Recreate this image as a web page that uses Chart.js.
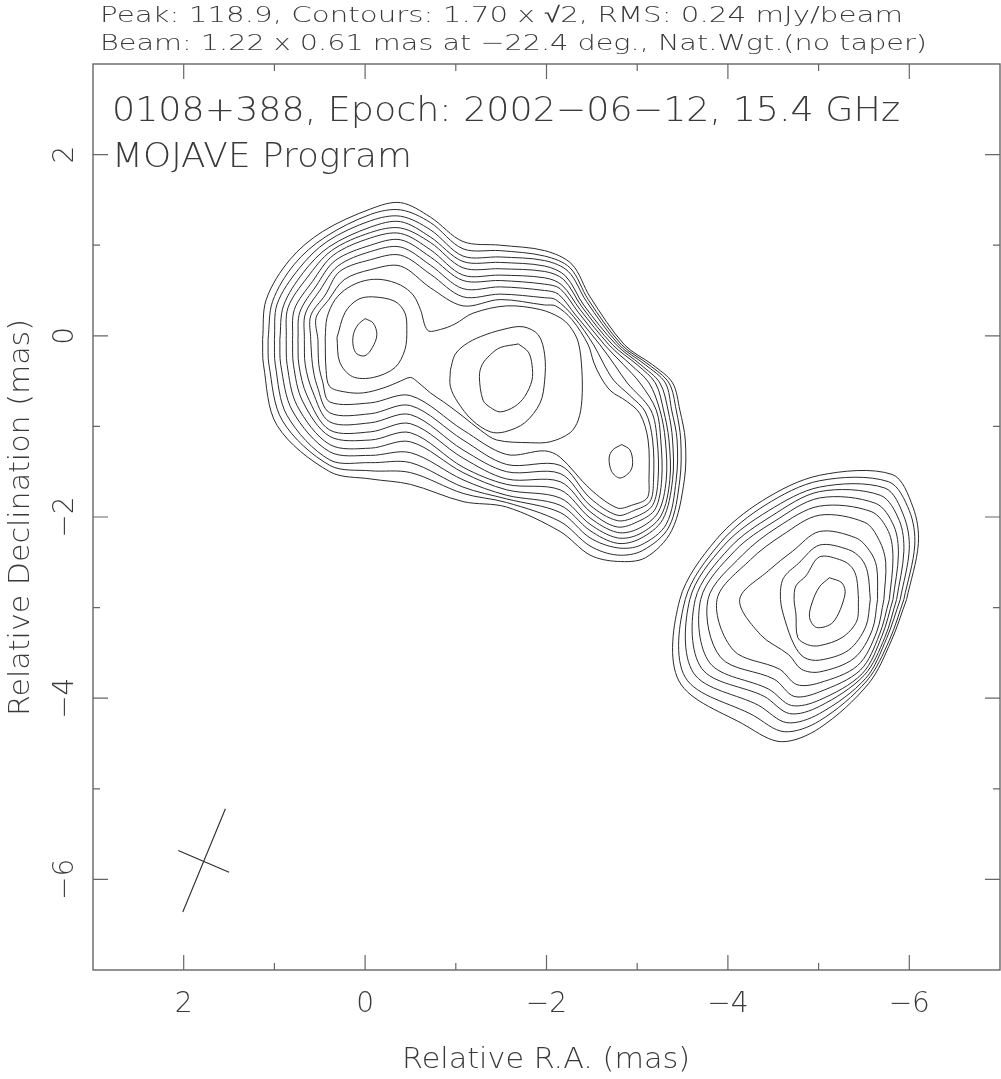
<!DOCTYPE html>
<html>
<head>
<meta charset="utf-8">
<script src="https://cdn.jsdelivr.net/npm/chart.js@4.4.0/dist/chart.umd.min.js"></script>
<style>
html,body{margin:0;padding:0;background:#fff;overflow:hidden;}
canvas{display:block;}
</style>
</head>
<body>
<canvas id="c" width="1001" height="1079"></canvas>
<script>
// ---------- Data (Relative R.A., Relative Dec in mas) ----------
const xMajorTicks = [2, 0, -2, -4, -6];
const xMinorTicks = [1, -1, -3, -5];
const yMajorTicks = [2, 0, -2, -4, -6];
const yMinorTicks = [1, -1, -3, -5];
const xTickLabels = ['2', '0', '\u22122', '\u22124', '\u22126'];
const yTickLabels = ['2', '0', '\u22122', '\u22124', '\u22126'];

const titleLine1 = 'Peak: 118.9, Contours: 1.70 x \u221A2, RMS: 0.24 mJy/beam';
const titleLine2 = 'Beam: 1.22 x 0.61 mas at \u221222.4 deg., Nat.Wgt.(no taper)';
const sourceLabel = '0108+388, Epoch: 2002\u221206\u221212, 15.4 GHz';
const programLabel = 'MOJAVE Program';
const xAxisTitle = 'Relative R.A. (mas)';
const yAxisTitle = 'Relative Declination (mas)';

// Beam cross (major and minor axes)
const beamMajor = [[1.54, -5.22], [2.01, -6.36]];
const beamMinor = [[2.06, -5.68], [1.50, -5.92]];

// Northern complex: contours enclosing core, knot B and knot C (levels 1-10)
const outer01 = [[1.13,-0.04],[1.09,0.40],[0.83,0.84],[0.47,1.15],[-0.06,1.40],[-0.39,1.47],[-0.72,1.31],[-1.08,1.04],[-1.49,1.00],[-1.98,0.94],[-2.28,0.79],[-2.48,0.43],[-2.86,-0.10],[-3.17,-0.32],[-3.39,-0.52],[-3.47,-0.82],[-3.53,-1.15],[-3.52,-1.59],[-3.38,-2.15],[-3.09,-2.45],[-2.78,-2.49],[-2.48,-2.42],[-2.15,-2.16],[-1.56,-1.89],[-1.08,-1.83],[-0.50,-1.64],[-0.06,-1.58],[0.39,-1.50],[0.97,-0.99],[1.12,-0.32]];
const outer02 = [[1.07,-0.04],[1.02,0.38],[0.78,0.79],[0.44,1.09],[-0.06,1.34],[-0.39,1.39],[-0.72,1.25],[-1.08,0.96],[-1.49,0.94],[-1.98,0.88],[-2.26,0.75],[-2.46,0.40],[-2.83,-0.10],[-3.13,-0.32],[-3.35,-0.52],[-3.43,-0.82],[-3.48,-1.15],[-3.47,-1.59],[-3.35,-2.11],[-3.06,-2.37],[-2.78,-2.42],[-2.48,-2.32],[-2.15,-2.05],[-1.56,-1.84],[-1.08,-1.74],[-0.50,-1.51],[-0.06,-1.49],[0.39,-1.43],[0.91,-0.94],[1.06,-0.32]];
const outer03 = [[1.00,-0.04],[0.97,0.35],[0.73,0.74],[0.42,1.04],[-0.06,1.27],[-0.39,1.32],[-0.72,1.17],[-1.08,0.88],[-1.49,0.87],[-1.98,0.83],[-2.24,0.71],[-2.44,0.38],[-2.80,-0.10],[-3.09,-0.32],[-3.31,-0.52],[-3.38,-0.82],[-3.44,-1.15],[-3.43,-1.59],[-3.32,-2.08],[-3.04,-2.31],[-2.78,-2.34],[-2.48,-2.23],[-2.15,-1.95],[-1.56,-1.80],[-1.08,-1.67],[-0.50,-1.40],[-0.06,-1.40],[0.39,-1.37],[0.86,-0.88],[0.99,-0.32]];
const outer04 = [[0.94,-0.04],[0.90,0.33],[0.68,0.70],[0.40,0.98],[-0.06,1.20],[-0.39,1.26],[-0.72,1.09],[-1.08,0.82],[-1.49,0.81],[-1.98,0.77],[-2.21,0.66],[-2.41,0.34],[-2.77,-0.10],[-3.04,-0.32],[-3.25,-0.52],[-3.34,-0.82],[-3.39,-1.15],[-3.39,-1.59],[-3.28,-2.03],[-3.03,-2.24],[-2.78,-2.29],[-2.48,-2.15],[-2.15,-1.87],[-1.56,-1.76],[-1.08,-1.59],[-0.50,-1.29],[-0.06,-1.32],[0.39,-1.28],[0.80,-0.83],[0.93,-0.32]];
const outer05 = [[0.87,-0.04],[0.85,0.31],[0.64,0.64],[0.37,0.94],[-0.06,1.14],[-0.39,1.19],[-0.72,1.03],[-1.08,0.75],[-1.49,0.74],[-1.98,0.71],[-2.19,0.62],[-2.39,0.32],[-2.73,-0.10],[-3.00,-0.32],[-3.20,-0.52],[-3.29,-0.82],[-3.35,-1.15],[-3.36,-1.59],[-3.26,-1.99],[-3.02,-2.19],[-2.78,-2.23],[-2.48,-2.08],[-2.15,-1.79],[-1.56,-1.70],[-1.08,-1.51],[-0.50,-1.17],[-0.06,-1.24],[0.39,-1.20],[0.75,-0.77],[0.86,-0.32]];
const outer06 = [[0.80,-0.04],[0.78,0.29],[0.58,0.60],[0.35,0.89],[-0.06,1.08],[-0.39,1.13],[-0.72,0.95],[-1.08,0.67],[-1.49,0.67],[-1.98,0.64],[-2.17,0.56],[-2.37,0.29],[-2.69,-0.10],[-2.93,-0.32],[-3.13,-0.52],[-3.25,-0.82],[-3.31,-1.15],[-3.32,-1.59],[-3.23,-1.95],[-3.01,-2.13],[-2.78,-2.17],[-2.48,-2.01],[-2.15,-1.70],[-1.56,-1.64],[-1.08,-1.45],[-0.50,-1.07],[-0.06,-1.15],[0.39,-1.11],[0.69,-0.72],[0.79,-0.32]];
const outer07 = [[0.74,-0.04],[0.72,0.26],[0.54,0.55],[0.33,0.83],[-0.06,1.00],[-0.39,1.06],[-0.72,0.87],[-1.08,0.61],[-1.49,0.61],[-1.98,0.57],[-2.15,0.52],[-2.35,0.26],[-2.64,-0.10],[-2.85,-0.32],[-3.03,-0.52],[-3.21,-0.82],[-3.26,-1.15],[-3.27,-1.59],[-3.20,-1.91],[-3.03,-2.04],[-2.78,-2.11],[-2.48,-1.94],[-2.15,-1.61],[-1.56,-1.58],[-1.08,-1.35],[-0.50,-0.97],[-0.06,-1.06],[0.39,-1.04],[0.64,-0.66],[0.73,-0.32]];
const outer08 = [[0.67,-0.04],[0.66,0.24],[0.50,0.50],[0.30,0.77],[-0.06,0.93],[-0.39,0.98],[-0.72,0.78],[-1.08,0.52],[-1.49,0.54],[-1.98,0.50],[-2.13,0.46],[-2.32,0.23],[-2.59,-0.10],[-2.75,-0.32],[-2.89,-0.52],[-3.15,-0.82],[-3.22,-1.15],[-3.23,-1.59],[-3.17,-1.87],[-3.00,-1.99],[-2.78,-2.04],[-2.48,-1.87],[-2.15,-1.52],[-1.56,-1.50],[-1.08,-1.26],[-0.50,-0.87],[-0.06,-0.96],[0.39,-0.95],[0.58,-0.61],[0.66,-0.32]];
const outer09 = [[0.60,-0.04],[0.60,0.22],[0.44,0.45],[0.28,0.71],[-0.06,0.84],[-0.39,0.89],[-0.72,0.68],[-1.08,0.43],[-1.49,0.46],[-1.98,0.42],[-2.10,0.40],[-2.30,0.21],[-2.52,-0.10],[-2.62,-0.29],[-2.74,-0.49],[-2.92,-0.66],[-3.09,-0.84],[-3.17,-1.15],[-3.18,-1.59],[-3.14,-1.83],[-2.96,-1.93],[-2.78,-1.98],[-2.48,-1.79],[-2.15,-1.43],[-1.56,-1.42],[-1.08,-1.15],[-0.50,-0.77],[-0.06,-0.86],[0.39,-0.85],[0.53,-0.55],[0.58,-0.32]];
const outer10 = [[0.52,-0.04],[0.54,0.20],[0.40,0.40],[0.23,0.62],[-0.06,0.73],[-0.39,0.77],[-0.72,0.53],[-1.08,0.33],[-1.49,0.40],[-1.98,0.34],[-2.10,0.33],[-2.28,0.18],[-2.46,-0.10],[-2.52,-0.29],[-2.60,-0.46],[-2.71,-0.61],[-2.88,-0.72],[-3.03,-0.86],[-3.12,-1.15],[-3.13,-1.59],[-3.11,-1.79],[-2.94,-1.87],[-2.78,-1.90],[-2.48,-1.69],[-2.15,-1.34],[-1.98,-1.27],[-1.56,-1.31],[-1.08,-1.04],[-0.50,-0.66],[-0.06,-0.74],[0.39,-0.73],[0.47,-0.50],[0.51,-0.32]];
// level 11: core + knot B (saddle contour) and separate knot C
const saddle11 = [[0.44,-0.02],[0.42,0.20],[0.33,0.40],[0.19,0.53],[0.00,0.61],[-0.19,0.62],[-0.39,0.56],[-0.53,0.45],[-0.61,0.29],[-0.69,0.06],[-0.83,0.07],[-0.99,0.13],[-1.19,0.25],[-1.56,0.33],[-1.93,0.29],[-2.15,0.20],[-2.26,0.10],[-2.35,-0.07],[-2.39,-0.38],[-2.39,-0.71],[-2.35,-0.93],[-2.26,-1.07],[-2.04,-1.17],[-1.82,-1.18],[-1.45,-1.15],[-1.27,-1.04],[-1.08,-0.89],[-0.88,-0.74],[-0.72,-0.63],[-0.58,-0.51],[-0.50,-0.46],[-0.39,-0.50],[-0.22,-0.57],[0.02,-0.63],[0.22,-0.62],[0.39,-0.56],[0.43,-0.38]];
const knotC11 = [[-2.83,-1.20],[-2.92,-1.26],[-2.95,-1.40],[-2.92,-1.50],[-2.81,-1.57],[-2.72,-1.50],[-2.69,-1.35],[-2.73,-1.26]];
// levels 12, 13: core and knot B
const core12 = [[0.31,-0.02],[0.22,0.26],[0.08,0.40],[-0.08,0.43],[-0.33,0.38],[-0.44,0.25],[-0.46,0.07],[-0.44,-0.15],[-0.33,-0.35],[-0.09,-0.46],[0.14,-0.45],[0.28,-0.29]];
const knotB12 = [[-0.94,-0.38],[-0.99,-0.21],[-1.10,-0.10],[-1.27,-0.01],[-1.52,0.07],[-1.74,0.10],[-1.91,0.01],[-1.98,-0.21],[-1.98,-0.49],[-1.93,-0.74],[-1.76,-0.96],[-1.54,-1.06],[-1.38,-1.06],[-1.18,-0.93],[-1.02,-0.73],[-0.94,-0.56]];
const core13 = [[0.00,0.19],[-0.09,0.14],[-0.13,0.01],[-0.08,-0.13],[0.00,-0.22],[0.09,-0.20],[0.13,-0.12],[0.13,0.01],[0.08,0.12]];
const knotB13 = [[-1.69,-0.09],[-1.49,-0.13],[-1.38,-0.21],[-1.29,-0.32],[-1.26,-0.45],[-1.30,-0.71],[-1.38,-0.79],[-1.49,-0.84],[-1.65,-0.78],[-1.76,-0.67],[-1.84,-0.49],[-1.84,-0.32],[-1.80,-0.18]];

// Southern component D (levels 1-11)
const blobD01 = [[-5.97,-2.91],[-6.10,-2.29],[-6.04,-1.89],[-5.81,-1.53],[-5.01,-1.54],[-4.38,-1.82],[-3.87,-2.25],[-3.47,-2.91],[-3.46,-3.81],[-4.21,-4.31],[-4.59,-4.48],[-5.01,-4.33],[-5.55,-3.84],[-5.80,-3.37]];
const blobD02 = [[-5.94,-2.91],[-6.06,-2.31],[-6.00,-1.93],[-5.77,-1.61],[-5.01,-1.60],[-4.41,-1.87],[-3.92,-2.28],[-3.53,-2.91],[-3.53,-3.77],[-4.28,-4.19],[-4.62,-4.37],[-5.01,-4.25],[-5.53,-3.81],[-5.78,-3.36]];
const blobD03 = [[-5.90,-2.91],[-6.00,-2.35],[-5.94,-1.99],[-5.73,-1.68],[-5.01,-1.67],[-4.45,-1.93],[-3.96,-2.31],[-3.58,-2.91],[-3.62,-3.72],[-4.34,-4.08],[-4.65,-4.27],[-5.01,-4.17],[-5.52,-3.78],[-5.75,-3.34]];
const blobD04 = [[-5.86,-2.91],[-5.94,-2.38],[-5.89,-2.04],[-5.68,-1.76],[-5.01,-1.72],[-4.48,-1.99],[-4.02,-2.34],[-3.64,-2.91],[-3.71,-3.67],[-4.40,-3.98],[-4.68,-4.17],[-5.01,-4.09],[-5.50,-3.75],[-5.73,-3.33]];
const blobD05 = [[-5.82,-2.91],[-5.88,-2.41],[-5.83,-2.10],[-5.63,-1.85],[-5.01,-1.79],[-4.51,-2.05],[-4.08,-2.37],[-3.70,-2.91],[-3.80,-3.61],[-4.45,-3.90],[-4.70,-4.08],[-5.01,-4.02],[-5.48,-3.73],[-5.70,-3.31]];
const blobD06 = [[-5.78,-2.91],[-5.82,-2.45],[-5.77,-2.16],[-5.58,-1.94],[-5.01,-1.88],[-4.55,-2.11],[-4.16,-2.42],[-3.78,-2.91],[-3.92,-3.55],[-4.51,-3.79],[-4.73,-3.98],[-5.01,-3.93],[-5.46,-3.69],[-5.67,-3.30]];
const blobD07 = [[-5.72,-2.91],[-5.74,-2.50],[-5.67,-2.26],[-5.51,-2.06],[-5.01,-1.98],[-4.60,-2.20],[-4.25,-2.47],[-3.88,-2.91],[-4.06,-3.47],[-4.57,-3.68],[-4.76,-3.85],[-5.01,-3.83],[-5.43,-3.64],[-5.64,-3.27]];
const blobD08 = [[-5.65,-2.91],[-5.64,-2.55],[-5.56,-2.37],[-5.41,-2.23],[-5.01,-2.16],[-4.71,-2.38],[-4.45,-2.59],[-4.13,-2.91],[-4.36,-3.30],[-4.67,-3.52],[-4.81,-3.68],[-5.01,-3.71],[-5.39,-3.56],[-5.59,-3.25]];
const blobD09 = [[-5.57,-2.91],[-5.54,-2.61],[-5.47,-2.46],[-5.33,-2.36],[-5.01,-2.31],[-4.78,-2.51],[-4.61,-2.68],[-4.58,-2.91],[-4.63,-3.14],[-4.73,-3.41],[-4.84,-3.55],[-5.01,-3.58],[-5.33,-3.47],[-5.52,-3.21]];
const blobD10 = [[-5.44,-2.91],[-5.42,-2.68],[-5.37,-2.56],[-5.26,-2.48],[-5.01,-2.44],[-4.86,-2.65],[-4.75,-2.76],[-4.73,-2.91],[-4.75,-3.07],[-4.77,-3.33],[-4.88,-3.41],[-5.01,-3.42],[-5.26,-3.33],[-5.42,-3.15]];
const blobD11 = [[-5.12,-2.67],[-5.26,-2.73],[-5.29,-2.86],[-5.16,-3.16],[-4.98,-3.22],[-4.90,-3.11],[-4.93,-2.94],[-5.01,-2.77]];

const contourSets = [
  outer01, outer02, outer03, outer04, outer05, outer06, outer07, outer08, outer09, outer10,
  saddle11, knotC11, core12, knotB12, core13, knotB13,
  blobD01, blobD02, blobD03, blobD04, blobD05, blobD06, blobD07, blobD08, blobD09, blobD10, blobD11
];

// ---------- Chart ----------
const LINE = '#2b2b2b';
const TEXT = '#3a3a3a';
const FONT = '"DejaVu Sans", "Liberation Sans", sans-serif';

const datasets = contourSets.map(pts => ({
  data: pts.concat([pts[0]]).map(p => ({ x: p[0], y: p[1] })),
  showLine: true, borderColor: LINE, borderWidth: 1, pointRadius: 0,
  tension: 0.33, fill: false
}));
[beamMajor, beamMinor].forEach(seg => datasets.push({
  data: seg.map(p => ({ x: p[0], y: p[1] })),
  showLine: true, borderColor: LINE, borderWidth: 1.1, pointRadius: 0, tension: 0, fill: false
}));

function fitText(ctx, txt, x, y, size, width, angle, align) {
  ctx.save();
  ctx.font = '200 ' + size + 'px ' + FONT;
  ctx.fillStyle = TEXT;
  ctx.textBaseline = 'alphabetic';
  ctx.textAlign = align || 'left';
  ctx.translate(x, y);
  if (angle) ctx.rotate(angle);
  if (width) {
    const w = ctx.measureText(txt).width;
    ctx.scale(width / w, 1);
  }
  ctx.fillText(txt, 0, 0);
  ctx.restore();
}

const framePlugin = {
  id: 'frame',
  beforeDraw(chart) {
    const ctx = chart.ctx;
    ctx.save();
    ctx.fillStyle = '#fff';
    ctx.fillRect(0, 0, chart.width, chart.height);
    ctx.restore();
  },
  afterDraw(chart) {
    const ctx = chart.ctx;
    const a = chart.chartArea;
    const xs = chart.scales.x, ys = chart.scales.y;
    ctx.save();
    ctx.strokeStyle = '#666';
    ctx.lineWidth = 1.4;
    ctx.strokeRect(a.left, a.top, a.right - a.left, a.bottom - a.top);
    const tick = (vals, len) => {
      vals.forEach(v => {
        const px = xs.getPixelForValue(v);
        ctx.beginPath();
        ctx.moveTo(px, a.bottom); ctx.lineTo(px, a.bottom - len);
        ctx.moveTo(px, a.top); ctx.lineTo(px, a.top + len);
        ctx.stroke();
      });
    };
    const tickY = (vals, len) => {
      vals.forEach(v => {
        const py = ys.getPixelForValue(v);
        ctx.beginPath();
        ctx.moveTo(a.left, py); ctx.lineTo(a.left + len, py);
        ctx.moveTo(a.right, py); ctx.lineTo(a.right - len, py);
        ctx.stroke();
      });
    };
    ctx.lineWidth = 1.2;
    tick(xMajorTicks, 15); tick(xMinorTicks, 7);
    tickY(yMajorTicks, 15); tickY(yMinorTicks, 7);
    ctx.restore();

    // tick labels
    xMajorTicks.forEach((v, i) => {
      fitText(ctx, xTickLabels[i], xs.getPixelForValue(v), a.bottom + 42, 28, 0, 0, 'center');
    });
    yMajorTicks.forEach((v, i) => {
      fitText(ctx, yTickLabels[i], a.left - 20, ys.getPixelForValue(v), 28, 0, -Math.PI / 2, 'center');
    });
    // axis titles
    fitText(ctx, xAxisTitle, 402, 1068, 28, 288, 0, 'left');
    fitText(ctx, yAxisTitle, 29, 716, 28, 397, -Math.PI / 2, 'left');
    // header lines
    fitText(ctx, titleLine1, 100, 22, 22, 803, 0, 'left');
    fitText(ctx, titleLine2, 100, 50, 22, 827, 0, 'left');
    // labels inside plot
    fitText(ctx, sourceLabel, 112, 121, 34, 788, 0, 'left');
    fitText(ctx, programLabel, 112, 167, 34, 300, 0, 'left');
  }
};

new Chart(document.getElementById('c'), {
  type: 'scatter',
  data: { datasets },
  options: {
    responsive: false,
    animation: false,
    devicePixelRatio: 1,
    layout: { padding: { left: 93, right: 1, top: 64, bottom: 109 } },
    plugins: { legend: { display: false }, tooltip: { enabled: false } },
    scales: {
      x: { type: 'linear', min: -7, max: 3, reverse: true, display: false },
      y: { type: 'linear', min: -7, max: 3, display: false }
    }
  },
  plugins: [framePlugin]
});
</script>
</body>
</html>
